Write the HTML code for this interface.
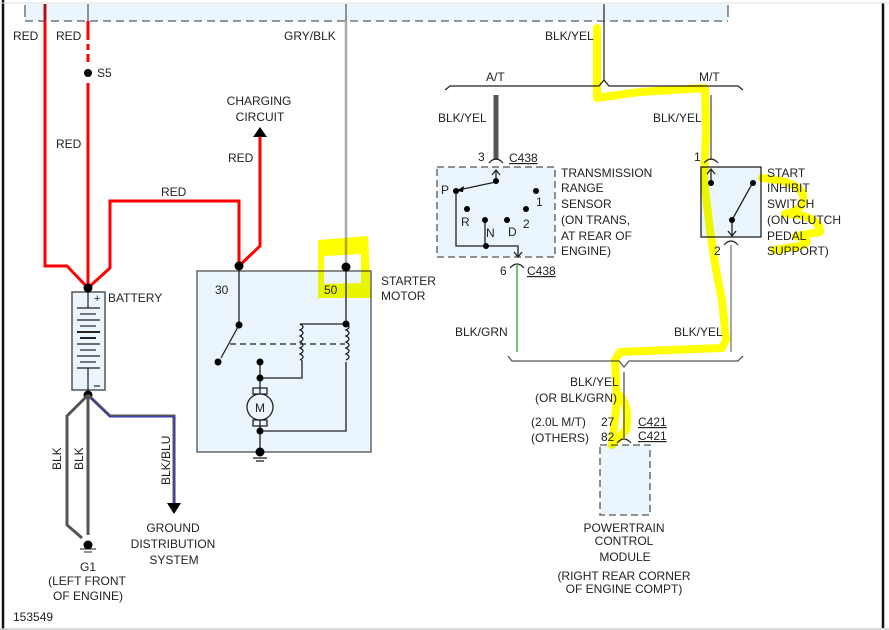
<!DOCTYPE html>
<html><head><meta charset="utf-8"><style>
html,body{margin:0;padding:0;background:#fff;}
svg{display:block;font-family:"Liberation Sans",sans-serif;font-size:12px;fill:#222;}
text{fill:#222;}
.hl{mix-blend-mode:multiply;}
</style></head><body>
<svg width="889" height="630" viewBox="0 0 889 630" xmlns="http://www.w3.org/2000/svg">
<line x1="3" y1="0" x2="3" y2="630" stroke="#111" stroke-width="2.5"/>
<line x1="883" y1="3" x2="883" y2="628" stroke="#111" stroke-width="2.5"/>
<line x1="0" y1="629" x2="889" y2="629" stroke="#ccc" stroke-width="1.5"/>
<line x1="0" y1="3" x2="889" y2="3" stroke="#ddd" stroke-width="1"/>
<rect x="25" y="4" width="703" height="17" fill="#eaf5fd"/>
<line x1="25" y1="21" x2="728" y2="21" stroke="#333" stroke-dasharray="8,5"/>
<line x1="25" y1="5" x2="25" y2="17" stroke="#333"/>
<line x1="728" y1="5" x2="728" y2="17" stroke="#333"/>

<g fill="none" stroke="#f00" stroke-width="3">
<polyline points="45,4 45,266 67,266 88,288"/>
<line x1="88" y1="21" x2="88" y2="40"/>
<line x1="88" y1="44" x2="88" y2="50"/><line x1="88" y1="54" x2="88" y2="62"/>
<line x1="88" y1="83" x2="88" y2="288"/>
<polyline points="88,288 110,268 110,201 239,201 239,266"/>
<polyline points="239,266 260,246 260,136"/>
</g>
<line x1="45" y1="4" x2="45" y2="21" stroke="#333"/>
<line x1="88" y1="4" x2="88" y2="21" stroke="#333"/>
<circle cx="88" cy="73" r="4" fill="#000"/>
<polygon points="260,127 253,137 267,137" fill="#000"/>
<text x="13" y="40">RED</text><text x="56" y="40">RED</text>
<text x="97" y="77">S5</text><text x="56" y="148">RED</text>
<text x="161" y="196">RED</text><text x="228" y="162">RED</text>
<text x="259" y="105" text-anchor="middle">CHARGING</text>
<text x="260" y="121" text-anchor="middle">CIRCUIT</text>

<line x1="346" y1="4" x2="346" y2="21" stroke="#333"/>
<line x1="346" y1="21" x2="346" y2="267" stroke="#aaa" stroke-width="2.5"/>
<text x="284" y="40">GRY/BLK</text>

<rect x="197" y="271" width="174" height="181" fill="#eaf5fd" stroke="#666" stroke-width="1.5"/>
<g fill="none" stroke="#222" stroke-width="1.3">
<line x1="239" y1="266" x2="239" y2="325"/>
<line x1="239" y1="325" x2="221" y2="358"/>
<line x1="346" y1="267" x2="346" y2="324"/>
<line x1="230" y1="344" x2="345" y2="344" stroke-dasharray="6,4"/>
<polyline points="346,324 300,324"/>
<path d="M300,324 q6,3 0,6 q6,3 0,6 q6,3 0,6 q6,3 0,6 q6,3 0,6 q6,3 0,6 M302,360 L302,378 L260,378"/>
<path d="M346,324 q6,3 0,6 q6,3 0,6 q6,3 0,6 q6,3 0,6 q6,3 0,6 q6,3 0,6 M346,362 L346,431 L260,431"/>
<line x1="260" y1="362" x2="260" y2="394"/>
<line x1="260" y1="420" x2="260" y2="452"/>
<rect x="253" y="388" width="14" height="6"/><rect x="253" y="420" width="14" height="6"/>
<circle cx="260" cy="407" r="13" fill="#eaf5fd"/>
<line x1="253" y1="458" x2="267" y2="458"/><line x1="256" y1="461" x2="264" y2="461"/>
</g>
<text x="260" y="412" text-anchor="middle">M</text>
<g fill="#000">
<circle cx="239" cy="266" r="4.5"/><circle cx="346" cy="267" r="4.5"/>
<circle cx="239" cy="325" r="3.5"/><circle cx="218" cy="362" r="3.5"/>
<circle cx="346" cy="324" r="3.5"/><circle cx="260" cy="362" r="3.5"/>
<circle cx="260" cy="378" r="3.5"/><circle cx="260" cy="431" r="3.5"/>
<circle cx="260" cy="452" r="4.5"/>
</g>
<text x="215" y="294">30</text><text x="324" y="294">50</text>
<text x="381" y="285">STARTER</text><text x="381" y="300">MOTOR</text>

<rect x="72" y="292" width="33" height="98" fill="#eaf5fd" stroke="#555" stroke-width="1.5"/>
<g stroke="#222" stroke-width="1.2">
<line x1="88" y1="288" x2="88" y2="308"/>
<line x1="77" y1="308" x2="100" y2="308"/><line x1="80" y1="314" x2="96" y2="314"/>
<line x1="77" y1="320" x2="100" y2="320"/><line x1="80" y1="326" x2="96" y2="326"/>
<line x1="77" y1="332" x2="100" y2="332" stroke-width="2"/><line x1="80" y1="338" x2="96" y2="338" stroke-width="2"/>
<line x1="77" y1="344" x2="100" y2="344"/><line x1="80" y1="350" x2="96" y2="350"/>
<line x1="77" y1="356" x2="100" y2="356"/><line x1="80" y1="362" x2="96" y2="362"/>
<line x1="77" y1="368" x2="100" y2="368"/>
<line x1="88" y1="368" x2="88" y2="395"/>
<line x1="94" y1="386" x2="100" y2="386"/>
</g>
<text x="94" y="302" font-size="11">+</text>
<text x="108" y="302">BATTERY</text>
<circle cx="88" cy="288" r="4.5" fill="#000"/>
<circle cx="88" cy="395" r="4.5" fill="#000"/>
<g fill="none" stroke-width="3">
<polyline points="88,395 67,416 67,525 82,538" stroke="#555"/>
<line x1="88" y1="395" x2="88" y2="535" stroke="#555"/>
<polyline points="88,395 110,416 174,416 174,503" stroke="#555"/>
</g>
<polyline points="91,398 110,417 175,417 175,503" fill="none" stroke="#22f" stroke-width="0.8"/>
<polygon points="167,503 181,503 174,514" fill="#000"/>
<circle cx="88" cy="545" r="4.5" fill="#000"/>
<line x1="80" y1="549" x2="96" y2="549" stroke="#222"/><line x1="84" y1="552" x2="92" y2="552" stroke="#222"/>
<text transform="translate(61,470) rotate(-90)">BLK</text>
<text transform="translate(83,470) rotate(-90)">BLK</text>
<text transform="translate(170,485) rotate(-90)">BLK/BLU</text>
<text x="173" y="532" text-anchor="middle">GROUND</text>
<text x="173" y="548" text-anchor="middle">DISTRIBUTION</text>
<text x="174" y="564" text-anchor="middle">SYSTEM</text>
<text x="88" y="571" text-anchor="middle">G1</text>
<text x="87" y="585" text-anchor="middle">(LEFT FRONT</text>
<text x="88" y="600" text-anchor="middle">OF ENGINE)</text>
<text x="13" y="621">153549</text>

<line x1="604" y1="4" x2="604" y2="80" stroke="#333" stroke-width="1.3"/>
<text x="545" y="40">BLK/YEL</text>
<path d="M445,90 L450,86 L599,86 L604,80 L609,86 L738,86 L743,90" fill="none" stroke="#222" stroke-width="1.3"/>
<text x="486" y="81">A/T</text><text x="699" y="81">M/T</text>
<line x1="496" y1="95" x2="496" y2="160" stroke="#555" stroke-width="5"/>
<line x1="711" y1="95" x2="711" y2="160" stroke="#555" stroke-width="1.3"/>
<text x="438" y="122">BLK/YEL</text><text x="653" y="122">BLK/YEL</text>
<rect x="437" y="167" width="118" height="90" fill="#eaf5fd" stroke="#555" stroke-dasharray="7,4" stroke-width="1.3"/>
<path d="M489,163 q7,-8 14,0" fill="none" stroke="#222" stroke-width="1.3"/>
<text x="478" y="161">3</text><text x="509" y="162" text-decoration="underline">C438</text>
<g fill="none" stroke="#222" stroke-width="1.3">
<polyline points="496,182 496,171"/><polyline points="492,175 496,170 500,175"/>
<line x1="496" y1="182" x2="458" y2="190"/>
<polyline points="456,190 456,246 518,246 518,256"/>
<line x1="485" y1="220" x2="485" y2="246"/>
<polyline points="514,252 518,257 522,252"/>
<path d="M510,268 q7,-8 14,0"/>
</g>
<polygon points="456,191 464,186 463,192" fill="#000"/>
<g fill="#000"><circle cx="496" cy="181" r="3"/><circle cx="456" cy="191" r="3"/><circle cx="536" cy="191" r="3"/>
<circle cx="467" cy="209" r="3"/><circle cx="526" cy="209" r="3"/><circle cx="485" cy="220" r="3"/><circle cx="507" cy="220" r="3"/><circle cx="486" cy="246" r="3"/></g>
<text x="441" y="194">P</text><text x="536" y="206">1</text><text x="461" y="226">R</text>
<text x="486" y="237">N</text><text x="508" y="236">D</text><text x="523" y="228">2</text>
<text x="561" y="177">TRANSMISSION</text><text x="561" y="192">RANGE</text><text x="561" y="208">SENSOR</text>
<text x="561" y="224">(ON TRANS,</text><text x="561" y="240">AT REAR OF</text><text x="561" y="255">ENGINE)</text>
<text x="500" y="275">6</text><text x="527" y="275" text-decoration="underline">C438</text>
<line x1="517" y1="264" x2="517" y2="352" stroke="#4a4" stroke-width="1.5"/>
<text x="455" y="336">BLK/GRN</text>
<rect x="701" y="167" width="60" height="70" fill="#eaf5fd" stroke="#222" stroke-width="1.3"/>
<path d="M704,163 q7,-8 14,0" fill="none" stroke="#222" stroke-width="1.3"/>
<text x="694" y="161">1</text>
<g fill="none" stroke="#222" stroke-width="1.3">
<line x1="711" y1="170" x2="711" y2="183"/><polyline points="707,174 711,169 715,174"/>
<line x1="732" y1="220" x2="752" y2="184"/>
<line x1="732" y1="220" x2="732" y2="236"/><polyline points="728,231 732,236 736,231"/>
<path d="M724,245 q7,-8 14,0"/>
</g>
<g fill="#000"><circle cx="711" cy="183" r="3"/><circle cx="753" cy="183" r="3"/><circle cx="732" cy="220" r="3"/></g>
<text x="714" y="255">2</text>
<text x="767" y="177">START</text><text x="767" y="192">INHIBIT</text><text x="767" y="208">SWITCH</text>
<text x="767" y="224">(ON CLUTCH</text><text x="767" y="240">PEDAL</text><text x="767" y="255">SUPPORT)</text>
<line x1="731" y1="245" x2="731" y2="352" stroke="#777" stroke-width="1.3"/>
<text x="674" y="336">BLK/YEL</text>
<path d="M508,356 L512,361 L619,361 L624,367 L629,361 L738,361 L743,356" fill="none" stroke="#555" stroke-width="1.3"/>
<line x1="624" y1="372" x2="624" y2="438" stroke="#555" stroke-width="1.3"/>
<text x="570" y="386">BLK/YEL</text><text x="535" y="402">(OR BLK/GRN)</text>
<text x="531" y="426">(2.0L M/T)</text><text x="601" y="426">27</text>
<text x="531" y="442">(OTHERS)</text><text x="601" y="441">82</text>
<text x="638" y="426" text-decoration="underline">C421</text><text x="638" y="440" text-decoration="underline">C421</text>
<path d="M617,443 q7,-8 14,0" fill="none" stroke="#222" stroke-width="1.3"/>
<rect x="600" y="445" width="50" height="70" fill="#eaf5fd" stroke="#555" stroke-dasharray="7,4" stroke-width="1.3"/>
<text x="624" y="532" text-anchor="middle">POWERTRAIN</text>
<text x="624" y="545" text-anchor="middle">CONTROL</text>
<text x="625" y="561" text-anchor="middle">MODULE</text>
<text x="624" y="580" text-anchor="middle">(RIGHT REAR CORNER</text>
<text x="624" y="593" text-anchor="middle">OF ENGINE COMPT)</text>

<g class="hl">
<g fill="none" stroke="#ff0" stroke-width="8" stroke-linejoin="round" stroke-linecap="round">
<polyline points="597,28 597,98 640,92 705,88 706,130 704,180 710,230 716,270 722,300 726,340 722,348 620,352 615,360 617,400 612,445"/>
<path d="M619,395 Q630,405 626,430 L612,445"/>
<path d="M762,178 Q800,182 803,195 Q805,210 785,214 Q820,215 820,232 L796,236 Q815,240 800,246 L774,250"/>
</g>
<path fill="#ff0" fill-rule="evenodd" d="M318,240 L368,236 L371,298 L318,298 Z M324,256 L361,254 L361,283 L324,284 Z"/>
</g>
</svg>
</body></html>
